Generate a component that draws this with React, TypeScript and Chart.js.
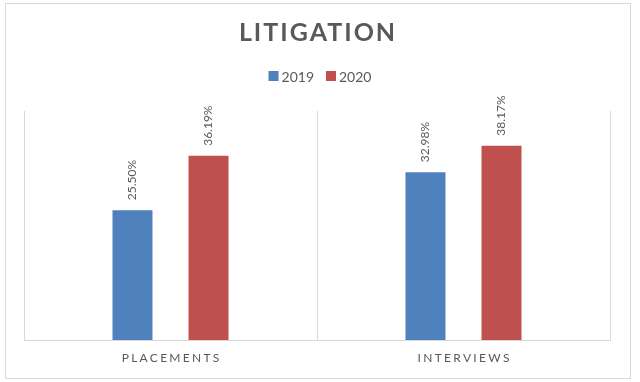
import React, { useEffect, useRef } from "react";
import { Chart, registerables } from "chart.js";

Chart.register(...registerables);

const titleText = "LITIGATION";
const categories = ["PLACEMENTS", "INTERVIEWS"];
const seriesNames = ["2019", "2020"];
const values2019 = [25.5, 32.98];
const values2020 = [36.19, 38.17];
const labels2019 = ["25.50%", "32.98%"];
const labels2020 = ["36.19%", "38.17%"];
const seriesColors = ["#4F81BD", "#C0504D"];
const yMax = 45;

const FONT = "Lato, 'Open Sans', 'Liberation Sans', sans-serif";
const TEXT = "#595959";
const GRID = "#D9D9D9";

const decor = {
  id: "decor",
  beforeDraw(chart: any) {
    const ctx = chart.ctx;
    ctx.save();
    ctx.fillStyle = "#FFFFFF";
    ctx.fillRect(0, 0, chart.width, chart.height);
    ctx.strokeStyle = GRID;
    ctx.lineWidth = 1;
    ctx.strokeRect(5.5, 3.5, 625, 375);
    ctx.restore();
  },
  afterDraw(chart: any) {
    const ctx = chart.ctx;
    const area = chart.chartArea;
    // Title
    ctx.save();
    ctx.fillStyle = TEXT;
    ctx.font = `bold 25px ${FONT}`;
    (ctx as any).letterSpacing = "2px";
    ctx.textAlign = "center";
    ctx.textBaseline = "middle";
    ctx.fillText(titleText, 318, 33);
    ctx.restore();

    // Legend
    ctx.save();
    ctx.font = `14px ${FONT}`;
    ctx.textBaseline = "middle";
    ctx.textAlign = "left";
    const ds = chart.data.datasets;
    const box = 10;
    const gapBoxText = 3;
    const gapItems = 12;
    const widths = ds.map((d: any) => box + gapBoxText + ctx.measureText(d.label).width);
    const total = widths.reduce((a: number, b: number) => a + b, 0) + gapItems * (ds.length - 1);
    let x = 320 - total / 2;
    const ly = 76;
    ds.forEach((d: any, i: number) => {
      ctx.fillStyle = d.backgroundColor;
      ctx.fillRect(x, ly - box / 2, box, box);
      ctx.fillStyle = TEXT;
      ctx.fillText(d.label, x + box + gapBoxText, ly + 1);
      x += widths[i] + gapItems;
    });
    ctx.restore();

    // Category labels
    const xs = chart.scales.x;
    ctx.save();
    ctx.font = `12px ${FONT}`;
    (ctx as any).letterSpacing = "2.3px";
    ctx.fillStyle = TEXT;
    ctx.textAlign = "center";
    ctx.textBaseline = "middle";
    categories.forEach((c, i) => {
      ctx.fillText(c, xs.getPixelForValue(i) + 1.15, area.bottom + 18);
    });
    ctx.restore();

    // Data labels
    const allLabels = [labels2019, labels2020];
    ctx.save();
    ctx.font = `12px ${FONT}`;
    ctx.fillStyle = TEXT;
    ds.forEach((d: any, di: number) => {
      const meta = chart.getDatasetMeta(di);
      meta.data.forEach((el: any, i: number) => {
        ctx.save();
        ctx.translate(el.x, el.y - 10);
        ctx.rotate(-Math.PI / 2);
        ctx.textAlign = "left";
        ctx.textBaseline = "middle";
        ctx.fillText(allLabels[di][i], 0, 0);
        ctx.restore();
      });
    });
    ctx.restore();
  },
};

export default function App() {
  const ref = useRef<HTMLCanvasElement | null>(null);
  useEffect(() => {
    if (!ref.current) return;
    const chart = new Chart(ref.current, {
      type: "bar",
      data: {
        labels: categories,
        datasets: [
          { label: seriesNames[0], data: values2019, backgroundColor: seriesColors[0] },
          { label: seriesNames[1], data: values2020, backgroundColor: seriesColors[1] },
        ],
      },
      options: {
        responsive: false,
        animation: false,
        devicePixelRatio: 1,
        layout: { padding: { left: 24, right: 30, top: 111, bottom: 42 } },
        datasets: {
          bar: { categoryPercentage: 0.519, barPercentage: 0.526 },
        },
        plugins: {
          legend: { display: false },
          title: { display: false },
          tooltip: { enabled: false },
        },
        scales: {
          x: {
            offset: true,
            grid: { display: true, offset: true, color: GRID, drawTicks: false, lineWidth: 1 },
            border: { display: true, color: GRID },
            ticks: { display: false },
          },
          y: {
            display: false,
            min: 0,
            max: yMax,
          },
        },
      },
      plugins: [decor],
    });
    return () => chart.destroy();
  }, []);
  return (
    <div style={{ position: "fixed", left: 0, top: 0, width: 640, height: 382, background: "#fff" }}>
      <canvas ref={ref} width={640} height={382} style={{ display: "block" }} />
    </div>
  );
}
